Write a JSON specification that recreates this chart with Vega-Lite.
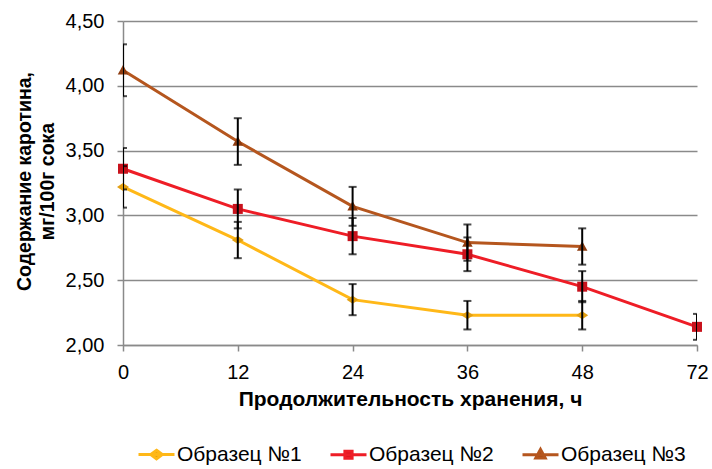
{
  "$schema": "https://vega.github.io/schema/vega-lite/v6.json",
  "width": 574,
  "height": 324,
  "autosize": {"type": "none"},
  "padding": {"left": 123, "top": 21, "right": 15, "bottom": 124},
  "background": "white",
  "config": {
    "view": {"stroke": null},
    "font": "Liberation Sans",
    "axis": {"labelFont": "Liberation Sans", "titleFont": "Liberation Sans", "labelColor": "#000000", "titleColor": "#000000"},
    "legend": {"labelFont": "Liberation Sans", "labelColor": "#000000"}
  },
  "data": {
    "values": [
      {"series": "Образец №1", "time": 0, "value": 3.22, "lo": 3.06, "hi": 3.38},
      {"series": "Образец №1", "time": 12, "value": 2.81, "lo": 2.67, "hi": 2.95},
      {"series": "Образец №1", "time": 24, "value": 2.35, "lo": 2.23, "hi": 2.47},
      {"series": "Образец №1", "time": 36, "value": 2.23, "lo": 2.12, "hi": 2.34},
      {"series": "Образец №1", "time": 48, "value": 2.23, "lo": 2.12, "hi": 2.34},
      {"series": "Образец №2", "time": 0, "value": 3.36, "lo": 3.2, "hi": 3.52},
      {"series": "Образец №2", "time": 12, "value": 3.05, "lo": 2.9, "hi": 3.2},
      {"series": "Образец №2", "time": 24, "value": 2.84, "lo": 2.7, "hi": 2.98},
      {"series": "Образец №2", "time": 36, "value": 2.7, "lo": 2.57, "hi": 2.83},
      {"series": "Образец №2", "time": 48, "value": 2.45, "lo": 2.33, "hi": 2.57},
      {"series": "Образец №2", "time": 72, "value": 2.14, "lo": 2.04, "hi": 2.24},
      {"series": "Образец №3", "time": 0, "value": 4.12, "lo": 3.92, "hi": 4.32},
      {"series": "Образец №3", "time": 12, "value": 3.57, "lo": 3.39, "hi": 3.75},
      {"series": "Образец №3", "time": 24, "value": 3.07, "lo": 2.92, "hi": 3.22},
      {"series": "Образец №3", "time": 36, "value": 2.79, "lo": 2.65, "hi": 2.93},
      {"series": "Образец №3", "time": 48, "value": 2.76, "lo": 2.62, "hi": 2.9}
    ]
  },
  "encoding": {
    "x": {
      "field": "time",
      "type": "ordinal",
      "scale": {"type": "point", "padding": 0},
      "axis": {
        "title": "Продолжительность хранения, ч",
        "labelAngle": 0,
        "labelFontSize": 20,
        "labelPadding": 11,
        "tickSize": 6,
        "tickColor": "#8a8a8a",
        "tickWidth": 1.5,
        "domainColor": "#8a8a8a",
        "domainWidth": 1.5,
        "grid": false,
        "titleFontSize": 21,
        "titleFontWeight": "bold",
        "titleBaseline": "alphabetic",
        "titleY": 60
      }
    },
    "y": {
      "field": "value",
      "type": "quantitative",
      "scale": {"domain": [2, 4.5], "nice": false, "zero": false},
      "axis": {
        "values": [2, 2.5, 3, 3.5, 4, 4.5],
        "labelExpr": "replace(format(datum.value, '.2f'), '.', ',')",
        "labelFontSize": 20,
        "labelPadding": 13,
        "tickSize": 6,
        "tickColor": "#8a8a8a",
        "tickWidth": 1.5,
        "domainColor": "#8a8a8a",
        "domainWidth": 1.5,
        "grid": true,
        "gridColor": "#8a8a8a",
        "gridWidth": 1.5,
        "title": ["Содержание каротина,", "мг/100г сока"],
        "titleFontSize": 19.5,
        "titleFontWeight": "bold",
        "titleLineHeight": 23,
        "titleAngle": 270,
        "titleAlign": "center",
        "titleBaseline": "middle",
        "titleX": -99,
        "titleY": 160
      }
    }
  },
  "layer": [
    {
      "mark": {"type": "line", "strokeWidth": 3},
      "encoding": {
        "stroke": {
          "field": "series",
          "type": "nominal",
          "scale": {"domain": ["Образец №1", "Образец №2", "Образец №3"], "range": ["#FFB818", "#EE1D26", "#B5561E"]},
          "legend": {
            "title": null,
            "orient": "none",
            "direction": "horizontal",
            "legendX": 14,
            "legendY": 414,
            "symbolType": "stroke",
            "symbolSize": 1296,
            "symbolStrokeWidth": 3,
            "labelFontSize": 21,
            "labelOffset": 1,
            "columnPadding": 22,
            "encode": {
              "symbols": {
                "update": {
                  "shape": {"signal": "datum.value === 'Образец №1' ? 'M-1,0H1M0,-0.24L0.32,0L0,0.24L-0.32,0Z' : datum.value === 'Образец №2' ? 'M-1,0H1M-0.2,-0.2H0.2V0.2H-0.2Z' : 'M-1,0H1M0,-0.3L0.26,0.18H-0.26Z'"},
                  "fill": {"signal": "datum.value === 'Образец №1' ? '#E3A013' : datum.value === 'Образец №2' ? '#C8121C' : '#8E3C10'"}
                }
              }
            }
          }
        }
      }
    },
    {
      "mark": {"type": "point", "filled": true, "opacity": 1, "size": 100},
      "encoding": {
        "fill": {
          "field": "series",
          "type": "nominal",
          "scale": {"range": ["#E3A013", "#C8121C", "#8E3C10"]},
          "legend": null
        },
        "shape": {
          "field": "series",
          "type": "nominal",
          "scale": {"range": ["M-1.2,0L0,-0.8L1.2,0L0,0.8Z", "square", "M0,-1.05L1.05,0.85H-1.05Z"]},
          "legend": null
        }
      }
    },
    {
      "mark": {"type": "rule", "color": "#000000", "strokeWidth": 2, "clip": true},
      "encoding": {"y": {"field": "lo", "type": "quantitative"}, "y2": {"field": "hi"}}
    },
    {
      "mark": {"type": "tick", "color": "#000000", "size": 8, "thickness": 2, "clip": true, "orient": "horizontal"},
      "encoding": {"y": {"field": "lo", "type": "quantitative"}}
    },
    {
      "mark": {"type": "tick", "color": "#000000", "size": 8, "thickness": 2, "clip": true, "orient": "horizontal"},
      "encoding": {"y": {"field": "hi", "type": "quantitative"}}
    }
  ]
}
